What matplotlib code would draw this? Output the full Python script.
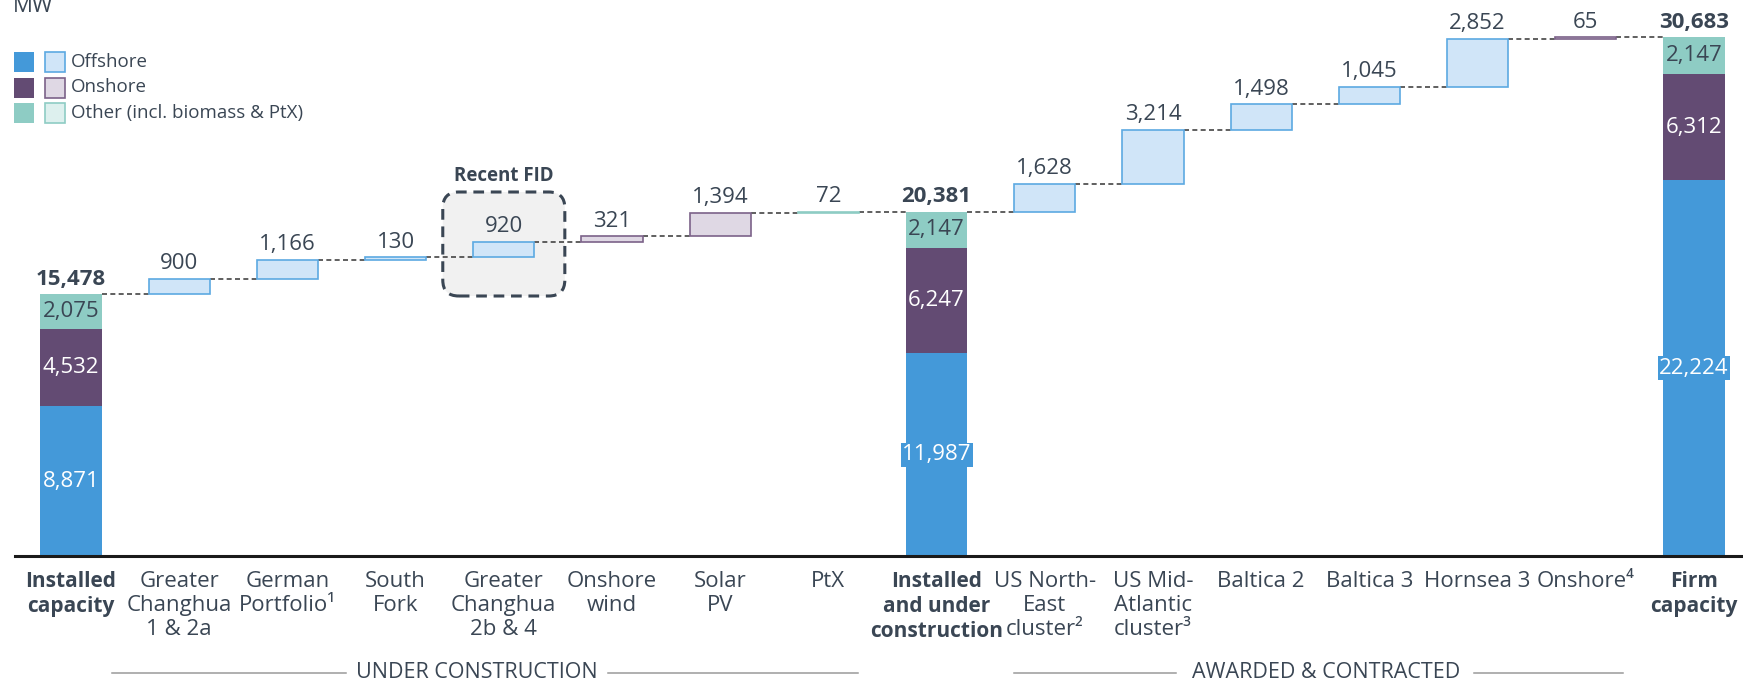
import matplotlib
matplotlib.use("Agg")
import matplotlib.pyplot as plt
from matplotlib.patches import Rectangle, FancyBboxPatch
from matplotlib.lines import Line2D
from matplotlib.transforms import IdentityTransform

plt.rcParams['font.family'] = ['Open Sans', 'DejaVu Sans']

# ---------------- data ----------------
categories = ["Installed\ncapacity", "Greater\nChanghua\n1 & 2a", "German\nPortfolio¹",
              "South\nFork", "Greater\nChanghua\n2b & 4", "Onshore\nwind", "Solar\nPV", "PtX",
              "Installed\nand under\nconstruction", "US North-\nEast\ncluster²",
              "US Mid-\nAtlantic\ncluster³", "Baltica 2", "Baltica 3", "Hornsea 3",
              "Onshore⁴", "Firm\ncapacity"]
# total bars: [offshore, onshore, other]
installed_capacity = [8871, 4532, 2075]
installed_under_construction = [11987, 6247, 2147]
firm_capacity = [22224, 6312, 2147]
total_index = [0, 8, 15]
# step bars: index, value, type
step_index = [1, 2, 3, 4, 5, 6, 7, 9, 10, 11, 12, 13, 14]
step_values = [900, 1166, 130, 920, 321, 1394, 72, 1628, 3214, 1498, 1045, 2852, 65]
step_types = ["offshore", "offshore", "offshore", "offshore", "onshore", "onshore", "other",
              "offshore", "offshore", "offshore", "offshore", "offshore", "onshore"]
legend_labels = ["Offshore", "Onshore", "Other (incl. biomass & PtX)"]
recent_fid_index = 4

# ---------------- style ----------------
W, H = 1743, 684
dark = {"offshore": "#4499D9", "onshore": "#634B73", "other": "#8ECCC4"}
light = {"offshore": "#D0E5F8", "onshore": "#DFD8E4", "other": "#DDF0EE"}
edge = {"offshore": "#5CA9E2", "onshore": "#7C6289", "other": "#8ECCC4"}
txt_on = {"offshore": "white", "onshore": "white", "other": "#3A4654"}
TXT = "#3A4654"
seg_types = ["offshore", "onshore", "other"]
bw = 0.564
FS = 16

fig = plt.figure(figsize=(W / 100, H / 100), dpi=100)
ax = fig.add_axes([0, 128 / H, 1, 556 / H])
px_per_x = 108.2
ax.set_xlim(-71 / px_per_x, (W - 71) / px_per_x)
ax.set_ylim(0, 32900)
ax.axis('off')

def fmt(v):
    return f"{v:,}"

# total bars
totals = {0: installed_capacity, 8: installed_under_construction, 15: firm_capacity}
for idx in total_index:
    segs = totals[idx]
    bottom = 0
    for v, t in zip(segs, seg_types):
        ax.bar(idx, v, bottom=bottom, width=bw, color=dark[t], edgecolor='none', zorder=3)
        kw = {}
        if t == "offshore":
            kw["bbox"] = dict(facecolor=dark[t], edgecolor='none', pad=1.0)
        ax.text(idx, bottom + v / 2, fmt(v), ha='center', va='center', fontsize=FS,
                color=txt_on[t], zorder=5, **kw)
        bottom += v
    ax.annotate(fmt(bottom), (idx, bottom), xytext=(0, 7), textcoords='offset points',
                ha='center', va='baseline', fontsize=FS, fontweight='bold', color=TXT)

# step bars
level = {}
cum = sum(installed_capacity)
level[0] = cum
for idx, v, t in zip(step_index, step_values, step_types):
    if idx == 9:
        cum = sum(installed_under_construction)
    ax.bar(idx, v, bottom=cum, width=bw, color=light[t], edgecolor=edge[t], linewidth=1.2, zorder=3)
    ax.annotate(fmt(v), (idx, cum + v), xytext=(0, 7), textcoords='offset points',
                ha='center', va='baseline', fontsize=FS, color=TXT)
    cum += v
    level[idx] = cum
level[8] = sum(installed_under_construction)

# connectors
for i in range(15):
    y = level[i]
    ax.plot([i + bw / 2, i + 1 - bw / 2], [y, y], color="#444444", lw=1.2,
            ls=(0, (3, 2)), zorder=2)

# baseline
ax.plot([-0.517, (W - 71) / px_per_x], [0, 0], color="#1a1a1a", lw=2.2, clip_on=False, zorder=4)

# category labels
for i, c in enumerate(categories):
    bold = i in total_index
    ax.annotate(c, (i, 0), xytext=(0, -10.5), textcoords='offset points', ha='center', va='top',
                fontsize=15 if bold else FS, linespacing=1.27 if bold else 1.2, color=TXT,
                fontweight='bold' if bold else 'normal', annotation_clip=False)

# Recent FID box (in pixel coordinates), behind the bars
fig.canvas.draw()
x0d, _ = ax.transData.transform((recent_fid_index - bw, 0))
x1d, _ = ax.transData.transform((recent_fid_index + bw, 0))
box_top_px = H - 192
box_bot_px = H - 296
r = 16
box = FancyBboxPatch((x0d + r, box_bot_px + r), (x1d - x0d) - 2 * r, (box_top_px - box_bot_px) - 2 * r,
                     boxstyle=f"round,pad={r},rounding_size={r}", transform=IdentityTransform(),
                     facecolor="#F1F1F1", edgecolor="#3A4654", lw=2.2, ls=(0, (3.5, 2.2)),
                     zorder=1, clip_on=False)
ax.add_artist(box)
fig.text((x0d + x1d) / 2 / W, (H - 176) / H, "Recent FID", ha='center', va='center',
         fontsize=13.5, fontweight='bold', color=TXT)

# MW label
fig.text(13 / W, 1 - 12 / H, "MW", ha='left', va='baseline', fontsize=FS, color=TXT)

# legend
rows_y = [62, 87.5, 113]
for y, t, lab in zip(rows_y, seg_types, legend_labels):
    s = 20
    fig.add_artist(Rectangle((14 / W, 1 - (y + s / 2) / H), s / W, s / H, transform=fig.transFigure,
                             facecolor=dark[t], edgecolor='none'))
    fig.add_artist(Rectangle((45 / W, 1 - (y + s / 2) / H), s / W, s / H, transform=fig.transFigure,
                             facecolor=light[t], edgecolor=edge[t], lw=1.2))
    fig.text(71 / W, 1 - y / H, lab, ha='left', va='center', fontsize=13.5, color=TXT)

# group labels
def group(text, cx, l0, l1, r0, r1, y=673):
    fig.text(cx / W, 1 - y / H, text, ha='center', va='center', fontsize=15.5, color=TXT)
    for a, b in [(l0, l1), (r0, r1)]:
        fig.add_artist(Line2D([a / W, b / W], [1 - y / H, 1 - y / H], transform=fig.transFigure,
                              color="#9a9a9a", lw=1.1))

group("UNDER CONSTRUCTION", 477, 112, 346, 608, 858)
group("AWARDED & CONTRACTED", 1326, 1014, 1176, 1474, 1623)

fig.savefig("out.png", dpi=100)
